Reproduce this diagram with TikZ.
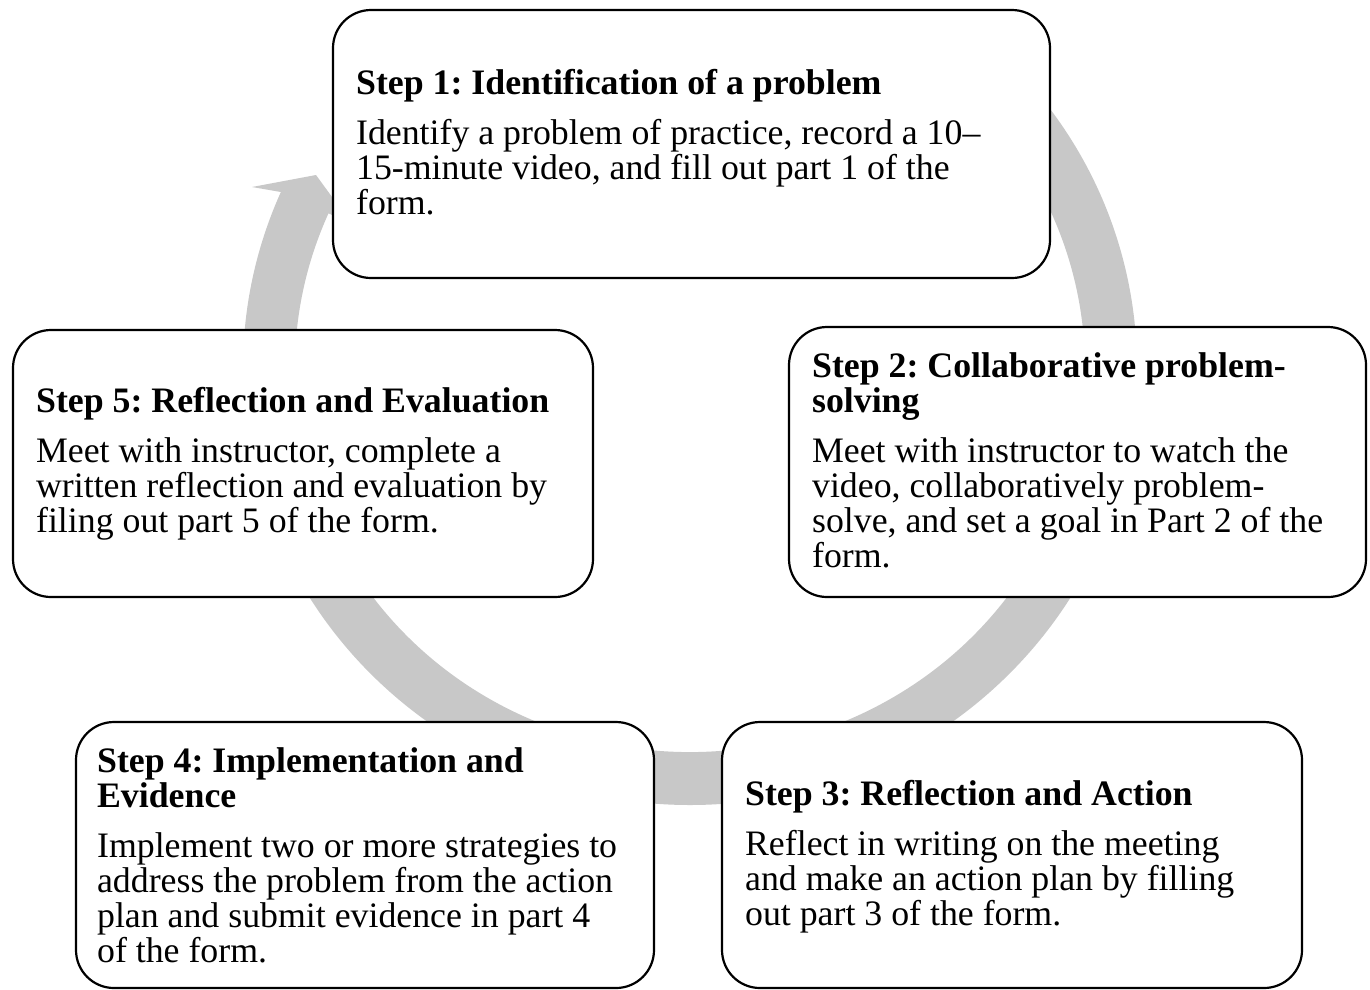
\documentclass[tikz,border=0pt]{standalone}
\usepackage{fontspec}
\setmainfont{Liberation Serif}
\definecolor{ringgray}{RGB}{200,200,200}
\begin{document}
\frenchspacing
\begin{tikzpicture}[x=1pt,y=-1pt,
  stepbox/.style={draw=black, line width=2.2pt, rounded corners=38pt, fill=white, inner sep=0pt},
  steptext/.style={align=left, inner sep=0pt, font=\fontsize{35.8}{35}\selectfont, anchor=west}]
\useasboundingbox[fill=white] (0,0) rectangle (1370,989);
% circular grey arrow behind the boxes
\begin{scope}[shift={(690,368)}, yscale=-1]
  \fill[ringgray] (45:447 and 437)
    arc[start angle=45, end angle=-203.75, x radius=447, y radius=437]
    -- (-438,181) -- (-374,193) -- (-339,145) -- (-203.75:395 and 384)
    arc[start angle=-203.75, end angle=45, x radius=395, y radius=384] -- cycle;
\end{scope}
% boxes
\node[stepbox, minimum width=717pt, minimum height=268pt] (s1) at (691.5,144) {};
\node[stepbox, minimum width=577pt, minimum height=270pt] (s2) at (1077.5,462) {};
\node[stepbox, minimum width=580pt, minimum height=267pt] (s5) at (303,463.5) {};
\node[stepbox, minimum width=578pt, minimum height=266pt] (s4) at (365,855) {};
\node[stepbox, minimum width=580pt, minimum height=266pt] (s3) at (1012,855) {};
% texts
\node[steptext] (t1) at ([xshift=24pt,yshift=2pt]s1.west) {\textbf{Step 1: Identification of a problem}\\[15pt]
Identify a problem of practice, record a 10–\\
15-minute video, and fill out part 1 of the\\
form.};
\node[steptext] (t2) at ([xshift=24pt,yshift=2pt]s2.west) {\textbf{Step 2: Collaborative problem-}\\
\textbf{solving}\\[15pt]
Meet with instructor to watch the\\
video, collaboratively problem-\\
solve, and set a goal in Part 2 of the\\
form.};
\node[steptext] (t5) at ([xshift=24pt]s5.west) {\textbf{Step 5: Reflection and Evaluation}\\[15pt]
Meet with instructor, complete a\\
written reflection and evaluation by\\
filing out part 5 of the form.};
\node[steptext] (t4) at ([xshift=22pt]s4.west) {\textbf{Step 4: Implementation and}\\
\textbf{Evidence}\\[15pt]
Implement two or more strategies to\\
address the problem from the action\\
plan and submit evidence in part 4\\
of the form.};
\node[steptext] (t3) at ([xshift=24pt,yshift=-2pt]s3.west) {\textbf{Step 3: Reflection and Action}\\[15pt]
Reflect in writing on the meeting\\
and make an action plan by filling\\
out part 3 of the form.};
\end{tikzpicture}
\end{document}
